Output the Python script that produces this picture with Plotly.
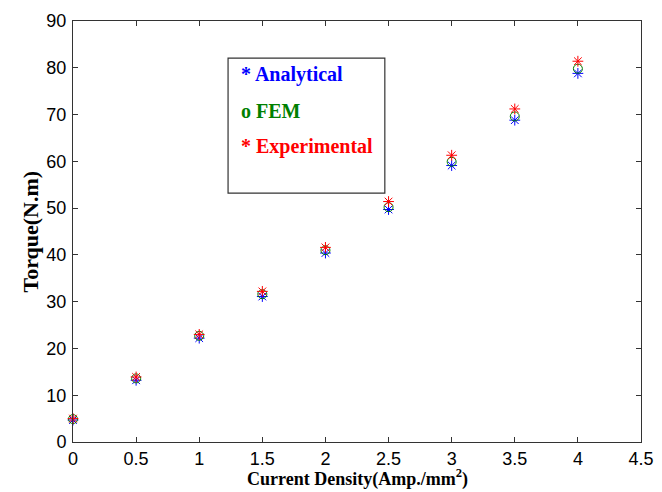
import plotly.graph_objects as go

current_density = [0, 0.5, 1, 1.5, 2, 2.5, 3, 3.5, 4]
torque_analytical = [4.7, 13.2, 22.2, 31.1, 40.4, 49.7, 59.1, 68.8, 78.8]
torque_fem = [4.9, 13.6, 22.7, 31.6, 41.0, 50.2, 59.9, 69.6, 79.8]
torque_experimental = [5.0, 13.9, 23.0, 32.2, 41.6, 51.4, 61.3, 71.2, 81.4]

series_names = ["Analytical", "FEM", "Experimental"]
legend_marks = ["*", "o", "*"]
x_ticks = [0, 0.5, 1, 1.5, 2, 2.5, 3, 3.5, 4, 4.5]
y_ticks = [0, 10, 20, 30, 40, 50, 60, 70, 80, 90]

colors = ["#0000ff", "#008000", "#ff0000"]
symbols = ["asterisk-open", "circle-open", "asterisk-open"]

fig = go.Figure()
for name, ys, col, sym in zip(series_names,
                              [torque_analytical, torque_fem, torque_experimental],
                              colors, symbols):
    fig.add_trace(go.Scatter(
        x=current_density, y=ys, mode="markers", name=name,
        marker=dict(symbol=sym, size=9, color=col, line=dict(color=col, width=1)),
        showlegend=False, cliponaxis=False))

axis_common = dict(
    showgrid=False, zeroline=False, showline=True, linecolor="#333333", linewidth=1,
    mirror="allticks", ticks="inside", ticklen=5, tickcolor="#333333",
    automargin=False,
    tickfont=dict(family="Liberation Sans, Arial", size=18, color="#000000"),
)

fig.update_xaxes(range=[0, 4.5], tickvals=x_ticks,
                 ticktext=[f"{v:g}" for v in x_ticks],
                 ticklabelstandoff=0,
                 **axis_common)
fig.update_yaxes(range=[0, 90], tickvals=y_ticks,
                 ticktext=[f"{v:g}" for v in y_ticks],
                 ticklabelstandoff=2,
                 **axis_common)

title_font = dict(family="Liberation Serif, Times New Roman", color="#000000", weight="bold")
# axis titles
fig.add_annotation(xref="paper", yref="paper", x=0.5, y=0, yshift=-36,
                   xanchor="center", yanchor="middle", showarrow=False,
                   text="Current Density(Amp./mm<sup>2</sup>)",
                   font=dict(size=18, **title_font))
fig.add_annotation(xref="paper", yref="paper", x=0, y=0.5, xshift=-43,
                   xanchor="center", yanchor="middle", showarrow=False, textangle=-90,
                   text="Torque(N.m)",
                   font=dict(size=22, **title_font))

# Legend box
fig.add_shape(type="rect", xref="paper", yref="paper",
              x0=0.273, x1=0.549, y0=0.591, y1=0.912,
              line=dict(color="#333333", width=1.2), fillcolor="white", layer="below")
legend_y = [0.872, 0.786, 0.701]
for mark, name, col, yy in zip(legend_marks, series_names, colors, legend_y):
    fig.add_annotation(xref="paper", yref="paper", x=0.292, y=yy,
                       xanchor="left", yanchor="middle", showarrow=False,
                       text=f"{mark} {name}",
                       font=dict(size=20, color=col,
                                 family="Liberation Serif, Times New Roman", weight="bold"))

fig.update_layout(
    width=662, height=492,
    margin=dict(l=65, r=29, t=13, b=58),
    plot_bgcolor="white", paper_bgcolor="white",
)

fig.write_html("out.html")
